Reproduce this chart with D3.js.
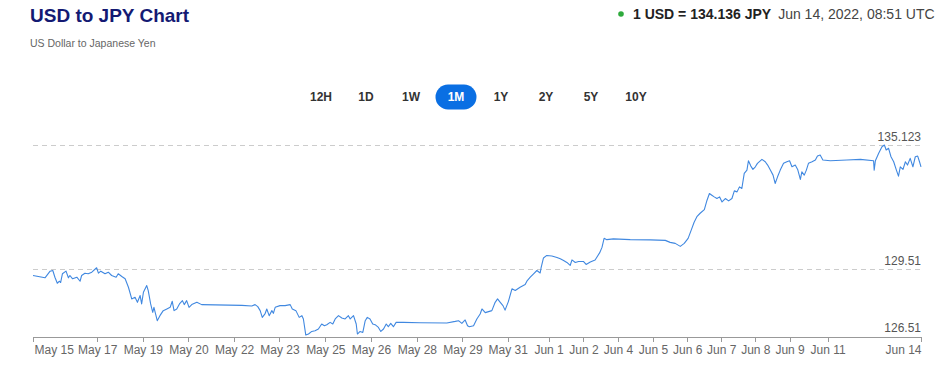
<!DOCTYPE html>
<html>
<head>
  <title>USD to JPY Chart</title>
  <script src="https://d3js.org/d3.v7.min.js"></script>
  <style>
    body { margin: 0; background: #fff; font-family: "Liberation Sans", Arial, sans-serif; }
    .axis path, .axis line { stroke: #999; shape-rendering: crispEdges; }
    .axis text { font-size: 12px; fill: #666; font-family: "Liberation Sans", Arial, sans-serif; }
  </style>
</head>
<body>
  <div id="chart"></div>
  <script>
    // Sample index along the axis (weekends squeezed out) and USD/JPY rate
    const sampleIdx = [0, 4, 5.7, 6.6, 7.3, 8.1, 8.8, 9.2, 9.8, 11, 11.8, 12.3, 13.2, 14.6, 15.7, 16.2, 17.3, 18.4, 19.6, 21.2,
      21.8, 22.6, 24, 25.1, 26.2, 27.7, 28.4, 29.6, 30.7, 31.8, 32.9, 34, 34.8, 35.7, 36.2, 36.8, 37.9, 38.4, 39.2, 39.9,
      40.3, 41.4, 42.3, 43.4, 44.6, 45.7, 46.4, 47, 47.9, 48.8, 49.8, 50.4, 51.2, 52, 52.9, 54.6, 56.2, 69.6, 72.9, 74,
      74.9, 75.7, 76.4, 77.3, 77.9, 78.7, 79.6, 80.1, 80.7, 82.3, 84, 85.7, 86.4, 87.6, 88.7, 89.6, 90.1, 90.9, 91.8, 92.9,
      94, 95.1, 96.2, 97.1, 97.9, 99, 99.9, 100.7, 101.8, 102.9, 104, 105.1, 105.7, 106.8, 107.7, 108.1, 109, 109.9, 110.7, 111.4,
      112.3, 113.2, 114, 115.1, 115.9, 116.8, 117.7, 118.4, 119.2, 120.1, 121, 123.4, 129, 137.9, 140.7, 141.8, 142.9, 144, 144.8, 145.4,
      146.8, 147.9, 149, 149.6, 150.7, 151.8, 152.9, 154, 154.8, 155.7, 156.6, 157.3, 158.4, 159.6, 160.7, 162.3, 164, 164.7, 165.7, 166.8,
      167.9, 169, 169.3, 170.1, 171.2, 172.9, 174.6, 175.7, 176.8, 177.9, 179, 179.6, 180.7, 181.8, 183.4, 184.3, 185.7, 187.3, 188.8, 189.6,
      190.3, 191.2, 193.4, 199, 205.7, 210.7, 212.3, 214, 215.7, 217, 218.3, 219.3, 220.3, 221.3, 222.3, 223.7, 224.6, 225.4, 226.2, 227,
      227.9, 228.8, 229.6, 230.7, 231.8, 232.9, 233.7, 234.6, 235.4, 236.2, 237, 237.9, 238.4, 239.2, 239.9, 240.7, 241.4, 242.9, 244, 244.8,
      245.7, 246.6, 247.3, 248.1, 249, 250.1, 251.2, 252.1, 252.9, 254, 254.8, 255.7, 256.2, 257, 257.7, 258.4, 259.6, 260.7, 261.4, 262.3,
      263.2, 265.7, 271.2, 275.7, 280.1, 280.3, 280.7, 281.8, 282.9, 283.7, 284.3, 285.1, 285.9, 286.8, 287.7, 288.4, 289, 289.9, 290.7, 291.4,
      292.3, 293.2, 294, 294.8, 295.4, 295.9];
    const rates = [129.238, 129.134, 129.433, 129.464, 129.161, 128.889, 128.980, 128.921, 129.315, 129.433, 129.134, 129.238, 129.089, 129.161, 128.980, 129.238, 129.342, 129.315, 129.387, 129.587,
      129.342, 129.433, 129.315, 129.387, 129.238, 129.161, 129.315, 129.193, 129.089, 128.708, 128.183, 128.256, 128.029, 128.333, 127.957, 128.482, 128.785, 128.559, 127.957, 127.577,
      127.803, 127.201, 127.427, 127.654, 127.730, 127.803, 128.075, 127.654, 127.730, 127.957, 128.106, 127.925, 128.106, 127.803, 127.925, 128.029, 127.925, 127.893, 127.866, 127.925,
      127.835, 127.654, 127.350, 127.504, 127.730, 127.427, 127.654, 127.531, 127.803, 127.880, 127.880, 127.925, 127.730, 127.654, 127.350, 127.427, 127.278, 126.553, 126.599, 126.716,
      126.748, 126.825, 127.051, 126.974, 127.020, 127.124, 127.051, 127.278, 127.427, 127.323, 127.278, 127.427, 127.278, 127.427, 127.051, 126.599, 126.716, 126.671, 127.201, 127.350,
      127.278, 127.051, 127.020, 126.897, 126.716, 126.825, 127.051, 126.929, 127.079, 126.929, 127.124, 127.124, 127.110, 127.097, 127.169, 127.201, 127.079, 127.233, 126.974, 126.929,
      126.974, 127.278, 127.504, 127.730, 127.563, 127.608, 127.654, 128.029, 128.183, 128.029, 127.880, 127.676, 128.061, 128.636, 128.559, 128.708, 128.831, 129.012, 129.161, 129.315,
      129.464, 129.351, 129.577, 130.030, 130.143, 130.121, 130.053, 129.994, 129.917, 129.826, 129.691, 129.940, 129.826, 129.872, 129.872, 129.736, 129.849, 129.940, 130.257, 130.506,
      130.913, 130.854, 130.890, 130.854, 130.845, 130.822, 130.732, 130.687, 130.551, 130.687, 130.913, 131.275, 131.637, 131.909, 132.045, 132.212, 132.633, 132.936, 132.860, 132.783,
      132.710, 132.783, 132.556, 132.710, 132.602, 132.710, 133.054, 133.009, 133.235, 133.163, 133.842, 133.991, 134.412, 134.172, 134.023, 134.141, 134.295, 134.476, 134.367, 134.218,
      133.991, 133.765, 133.389, 133.688, 133.991, 134.295, 134.367, 134.412, 134.141, 134.218, 134.023, 133.570, 133.914, 133.765, 133.991, 134.295, 134.367, 134.444, 134.625, 134.670,
      134.444, 134.412, 134.444, 134.476, 134.412, 133.991, 134.412, 134.747, 135.046, 135.123, 134.897, 134.974, 134.593, 134.367, 133.991, 133.720, 134.141, 134.023, 134.367, 134.218,
      134.521, 134.141, 134.593, 134.625, 134.367, 134.136];

    const tickLabels = ["May 15", "May 17", "May 19", "May 20", "May 22", "May 23", "May 25", "May 26", "May 28", "May 29", "May 31",
      "Jun 1", "Jun 2", "Jun 4", "Jun 5", "Jun 6", "Jun 7", "Jun 8", "Jun 9", "Jun 11", "Jun 14"];
    const tickIdx = [0, 21.4, 36.6, 51.8, 67, 82.1, 97.4, 112.6, 127.9, 143.1, 158.2, 171.8, 183.4, 194.9, 206.6, 218, 229.3, 240.7, 252.1, 264.8, 295.9];

    const levels = [135.123, 129.51, 126.51]; // max, mid, min shown on the right
    const ranges = ["12H", "1D", "1W", "1M", "1Y", "2Y", "5Y", "10Y"];
    const activeRange = "1M";

    const width = 943, height = 372;
    const margin = { left: 33, right: 22, top: 145, bottom: 36 };

    const svg = d3.select("#chart").append("svg")
      .attr("width", width).attr("height", height);

    // 标题
    svg.append("text").attr("x", 30).attr("y", 22)
      .attr("font-size", 19).attr("font-weight", "bold").attr("fill", "#141a73")
      .text("USD to JPY Chart");
    svg.append("text").attr("x", 30).attr("y", 47)
      .attr("font-size", 10.5).attr("fill", "#666")
      .text("US Dollar to Japanese Yen");

    // 右上角报价
    svg.append("circle").attr("cx", 621).attr("cy", 14).attr("r", 2.8).attr("fill", "#2eaa3c");
    const quote = svg.append("text").attr("x", 633).attr("y", 19).attr("font-size", 14);
    quote.append("tspan").attr("font-weight", "bold").attr("fill", "#222").text("1 USD = 134.136 JPY");
    quote.append("tspan").attr("dx", 7).attr("fill", "#444").text("Jun 14, 2022, 08:51 UTC");

    // 时间范围按钮
    const btnX = d3.scalePoint().domain(ranges).range([321, 636]);
    const btn = svg.append("g").selectAll("g").data(ranges).join("g")
      .attr("transform", d => `translate(${btnX(d)},97)`);
    btn.filter(d => d === activeRange).append("rect")
      .attr("x", -20.5).attr("y", -12.5).attr("width", 41).attr("height", 25).attr("rx", 12.5)
      .attr("fill", "#0a6fe3");
    btn.append("text").attr("text-anchor", "middle").attr("dy", "0.36em")
      .attr("font-size", 12).attr("font-weight", "bold")
      .attr("fill", d => d === activeRange ? "#fff" : "#333")
      .text(d => d);

    // 比例尺
    const x = d3.scaleLinear().domain([0, 295.9]).range([margin.left, width - margin.right]);
    const y = d3.scaleLinear().domain([levels[2], levels[0]]).range([height - margin.bottom, margin.top]);

    // 虚线参考线 + 右侧数值
    svg.append("g").selectAll("line").data(levels.slice(0, 2)).join("line")
      .attr("x1", x(0)).attr("x2", x(295.9))
      .attr("y1", d => Math.round(y(d)) + 0.5).attr("y2", d => Math.round(y(d)) + 0.5)
      .attr("stroke", "#ccc").attr("stroke-dasharray", "5,4");
    svg.append("g").selectAll("text").data(levels).join("text")
      .attr("x", x(295.9)).attr("y", d => y(d) - 4)
      .attr("text-anchor", "end").attr("font-size", 12).attr("fill", "#555")
      .text(d => d);

    // x 轴
    const xAxis = d3.axisBottom(x).tickValues(tickIdx)
      .tickFormat((d, i) => tickLabels[i]).tickSize(5).tickSizeOuter(0).tickPadding(4);
    const xg = svg.append("g").attr("class", "axis")
      .attr("transform", `translate(0,${height - margin.bottom + 0.5})`)
      .call(xAxis);
    // 首尾标签贴边对齐
    xg.selectAll(".tick text")
      .attr("text-anchor", (d, i, n) => i === 0 ? "start" : i === n.length - 1 ? "end" : "middle")
      .attr("dx", (d, i, n) => i === 0 ? 1 : 0);

    // 折线
    const pts = sampleIdx.map((d, i) => [d, rates[i]]);
    const line = d3.line().x(d => x(d[0])).y(d => y(d[1]));
    svg.append("path").datum(pts)
      .attr("fill", "none").attr("stroke", "#4088e0").attr("stroke-width", 1.1)
      .attr("stroke-linejoin", "round")
      .attr("d", line);
  </script>
</body>
</html>
